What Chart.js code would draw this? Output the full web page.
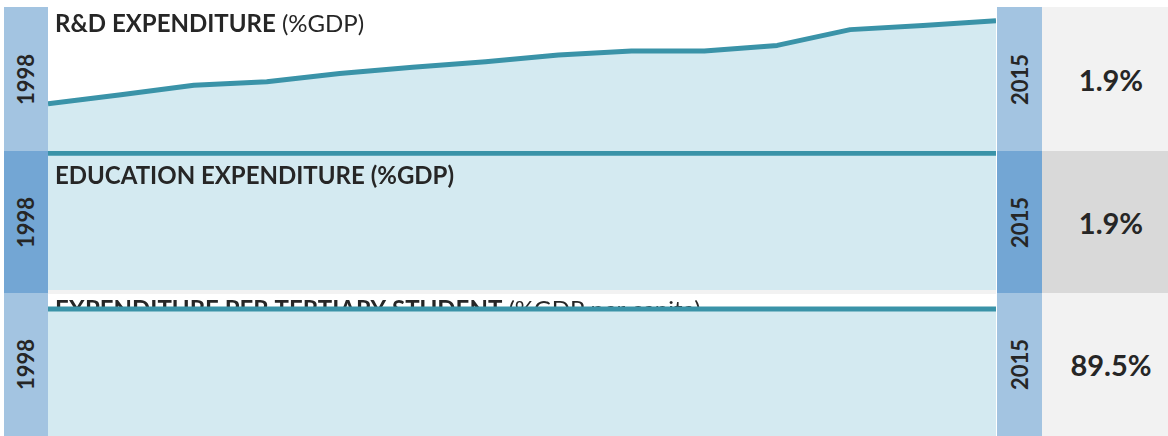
<!DOCTYPE html>
<html>
<head>
<meta charset="utf-8">
<script src="https://cdn.jsdelivr.net/npm/chart.js@4"></script>
<style>
  html, body { margin: 0; padding: 0; background: #ffffff; }
  body { width: 1168px; height: 436px; position: relative; overflow: hidden; font-family: Lato, "Open Sans", sans-serif; color: #262626; }
  .box { position: absolute; }
  .year { position: absolute; display: flex; align-items: center; justify-content: center; }
  .year span { transform: rotate(-90deg); font-weight: 700; font-size: 22px; white-space: nowrap; }
  .value { position: absolute; display: flex; align-items: center; justify-content: center; font-weight: 700; font-size: 29px; }
  canvas { position: absolute; }
</style>
</head>
<body>
<script>
// years on the x axis
var years = ['1998', '2000', '2002', '2004', '2006', '2007', '2008', '2009', '2010', '2011', '2012', '2013', '2014', '2015'];

// panel series (% values)
var rdExpenditure = [0.69, 0.82, 0.96, 1.01, 1.13, 1.22, 1.30, 1.40, 1.46, 1.46, 1.54, 1.77, 1.83, 1.90];
var eduExpenditure = [1.9, 1.9, 1.9, 1.9, 1.9, 1.9, 1.9, 1.9, 1.9, 1.9, 1.9, 1.9, 1.9, 1.9];
var tertiaryExpenditure = [89.5, 89.5, 89.5, 89.5, 89.5, 89.5, 89.5, 89.5, 89.5, 89.5, 89.5, 89.5, 89.5, 89.5];

// panel texts
var titlesBold = ['R&D EXPENDITURE', 'EDUCATION EXPENDITURE (%GDP)', 'EXPENDITURE PER TERTIARY STUDENT'];
var titlesNormal = [' (%GDP)', '', ' (%GDP per capita)'];
var startYear = '1998';
var endYear = '2015';
var lastValues = ['1.9%', '1.9%', '89.5%'];

var panels = [
    { data: rdExpenditure, max: 2.1, top: 7, bottom: 151, rowTop: 7, rowBottom: 151, band: '#a3c4e1', valueBg: '#f2f2f2', titleY: 24.5, behind: true },
    { data: eduExpenditure, max: 1.93, top: 151, bottom: 290, rowTop: 151, rowBottom: 293, band: '#73a6d4', valueBg: '#d9d9d9', titleY: 33, behind: false },
    { data: tertiaryExpenditure, max: 100, top: 294, bottom: 436, rowTop: 293, rowBottom: 436, band: '#a3c4e1', valueBg: '#f2f2f2', titleY: 23.5, behind: true }
];

var chartLeft = 48;
var chartRight = 996;

// draws the panel title, before or after the area depending on the panel
var titlePlugin = {
    id: 'panelTitle',
    drawTitle: function(chart, opts) {
        var ctx = chart.ctx;
        ctx.save();
        ctx.textBaseline = 'alphabetic';
        ctx.fillStyle = '#262626';
        ctx.font = '700 24px Lato';
        ctx.fillText(opts.bold, 7, opts.y);
        var w = ctx.measureText(opts.bold).width;
        ctx.font = '400 24px Lato';
        ctx.fillText(opts.normal, 7 + w, opts.y);
        ctx.restore();
    },
    beforeDatasetsDraw: function(chart, args, opts) {
        if (opts.behind) this.drawTitle(chart, opts);
    },
    afterDatasetsDraw: function(chart, args, opts) {
        if (!opts.behind) this.drawTitle(chart, opts);
    }
};

function addBox(x, y, w, h, color) {
    var d = document.createElement('div');
    d.className = 'box';
    d.style.left = x + 'px';
    d.style.top = y + 'px';
    d.style.width = w + 'px';
    d.style.height = h + 'px';
    d.style.background = color;
    document.body.appendChild(d);
    return d;
}

function addYear(x, y, w, h, color, text) {
    var d = addBox(x, y, w, h, color);
    d.className = 'year';
    var s = document.createElement('span');
    s.textContent = text;
    d.appendChild(s);
}

// grey strip between second and third panel
addBox(chartLeft, 290, chartRight - chartLeft, 4, '#f2f2f2');

panels.forEach(function(p, i) {
    var rowH = p.rowBottom - p.rowTop;
    addYear(4, p.rowTop, 44, rowH, p.band, startYear);
    addYear(997, p.rowTop, 45, rowH, p.band, endYear);
    var v = addBox(1042, p.rowTop, 138, rowH, p.valueBg);
    v.className = 'value';
    v.textContent = lastValues[i];

    var canvas = document.createElement('canvas');
    canvas.width = chartRight - chartLeft;
    canvas.height = p.bottom - p.top;
    canvas.style.left = chartLeft + 'px';
    canvas.style.top = p.top + 'px';
    document.body.appendChild(canvas);

    new Chart(canvas.getContext('2d'), {
        type: 'line',
        data: {
            labels: years,
            datasets: [{
                data: p.data,
                borderColor: '#3a93a8',
                backgroundColor: '#d4eaf1',
                fill: 'origin',
                tension: 0,
                pointRadius: 0,
                borderWidth: 5,
                borderJoinStyle: 'round',
                clip: 3
            }]
        },
        options: {
            responsive: false,
            animation: false,
            layout: { padding: 0 },
            plugins: {
                legend: { display: false },
                tooltip: { enabled: false },
                panelTitle: { bold: titlesBold[i], normal: titlesNormal[i], y: p.titleY, behind: p.behind }
            },
            scales: {
                x: { display: false, offset: false },
                y: { display: false, min: 0, max: p.max }
            }
        },
        plugins: [titlePlugin]
    });
});
</script>
</body>
</html>
